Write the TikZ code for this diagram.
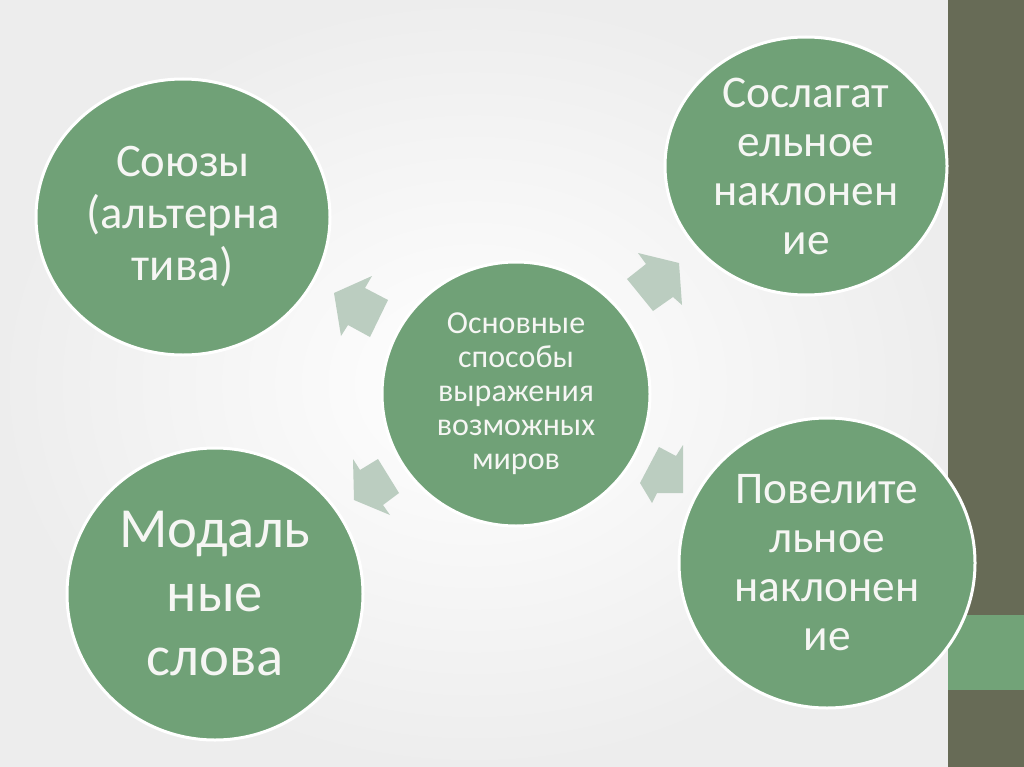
\documentclass[tikz,border=0pt]{standalone}
\usepackage{fontspec}
\setmainfont{Carlito}
\usetikzlibrary{shapes.geometric}
\definecolor{bubgreen}{RGB}{112,161,119}
\definecolor{arrowgreen}{RGB}{187,205,192}
\definecolor{barolive}{RGB}{103,107,86}
\definecolor{bandgreen}{RGB}{114,163,120}
\definecolor{txtwhite}{RGB}{246,246,244}
\tikzset{
  bubble/.style={ellipse, fill=bubgreen, draw=white, line width=2.25pt, text=txtwhite, align=center, inner sep=0pt},
  chevron/.style={fill=arrowgreen, draw=none}
}
\begin{document}
\begin{tikzpicture}[x=0.75pt,y=-0.75pt]
\useasboundingbox (0,0) rectangle (1024,767);
\shade[inner color=white,outer color=black!7] (0,0) rectangle (948,767);
\fill[barolive] (948,0) rectangle (1024,767);
\fill[bandgreen] (948,615) rectangle (1024,690);

% arrows
\fill[chevron] (334,293) -- (372,276) -- (365,288) -- (388,300) -- (370,337) -- (348,325) -- (341,336) -- cycle;
\fill[chevron] (638,253) -- (679,263) -- (682,305) -- (673,297) -- (653,311) -- (627,279) -- (646,264) -- cycle;
\fill[chevron] (353,459) -- (354,500) -- (390,515) -- (383,505) -- (399,493) -- (378,459) -- (360,470) -- cycle;
\fill[chevron] (683,445) -- (683,493) -- (657,493) -- (652,503) -- (640,483) -- (659,447) -- (676,456) -- cycle;

% circles
\node[bubble, minimum width=220.5pt, minimum height=207pt, font=\fontsize{35}{39}\selectfont] (soyuzy) at (183,217) {Союзы\\(альтерна\\тива)};
\node[bubble, minimum width=211.5pt, minimum height=193.5pt, font=\fontsize{34}{36.75}\selectfont] (soslag) at (806,166) {Сослагат\\ельное\\наклонен\\ие};
\node[bubble, minimum width=201pt, minimum height=198pt, font=\fontsize{24}{25.5}\selectfont] (center) at (516,394) {Основные\\способы\\выражения\\возможных\\миров};
\node[bubble, minimum width=222pt, minimum height=219pt, font=\fontsize{42.5}{48}\selectfont] (modal) at (215,594) {Модаль\\ные\\слова};
\node[bubble, minimum width=222pt, minimum height=217.5pt, font=\fontsize{34}{36.75}\selectfont] (povel) at (827,563) {Повелите\\льное\\наклонен\\ие};
\end{tikzpicture}
\end{document}
